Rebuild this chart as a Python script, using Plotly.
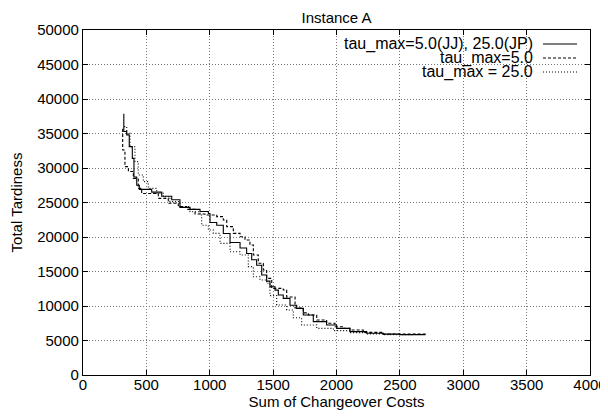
import plotly.graph_objects as go

# ---- data ----
jj_x = [318, 322, 345, 365, 389, 402, 424, 444, 542, 621, 700, 765, 844, 923, 989, 1002,
        1055, 1107, 1160, 1239, 1291, 1331, 1370, 1410, 1449, 1475, 1515, 1541, 1580, 1633,
        1686, 1738, 1817, 1922, 2001, 2106, 2238, 2370, 2500, 2700]
jj_y = [37800, 35300, 34800, 33100, 31400, 28700, 27500, 26900, 26500, 25900, 25400, 24300,
        24000, 23700, 23400, 22100, 21700, 20500, 19200, 18400, 17600, 16700, 15900, 14500,
        13600, 12800, 12300, 11600, 11100, 10100, 9660, 8700, 7730, 7250, 6760, 6280, 6040,
        5920, 5850, 5820]

t5_x = [310, 313, 331, 358, 397, 436, 463, 594, 673, 752, 818, 884, 962, 1055, 1107, 1134,
        1186, 1239, 1278, 1317, 1344, 1383, 1423, 1449, 1489, 1580, 1607, 1673, 1738, 1778,
        1844, 1922, 1988, 2054, 2106, 2211, 2370, 2711]
t5_y = [35600, 32600, 30200, 29500, 28500, 27050, 26300, 25600, 24900, 24400, 24000, 23330,
        23190, 22950, 22460, 21500, 20530, 20040, 19570, 18840, 17400, 16190, 15220, 14000,
        12560, 12320, 11300, 9700, 9000, 8700, 7970, 7490, 7000, 6760, 6520, 6180, 5940, 5800]

t25_x = [325, 345, 371, 410, 436, 476, 515, 581, 634, 686, 765, 844, 923, 936, 989, 1028,
         1081, 1160, 1239, 1304, 1344, 1396, 1449, 1475, 1528, 1607, 1659, 1725, 1844, 1975,
         2106, 2238, 2370, 2600]
t25_y = [36000, 35020, 33090, 30920, 28990, 28020, 27050, 26330, 25840, 25120, 24400, 23670,
         23190, 21700, 21010, 20530, 19080, 17870, 17390, 15700, 14250, 13770, 13290, 11500,
         10140, 9420, 8300, 7250, 6760, 6430, 6140, 5960, 5850, 5820]

series_names = ["tau_max=5.0(JJ), 25.0(JP)", "tau_max=5.0", "tau_max = 25.0"]
series_dash = ["solid", "3px,2px", "1px,2px"]

x_ticks = [0, 500, 1000, 1500, 2000, 2500, 3000, 3500, 4000]
y_ticks = [0, 5000, 10000, 15000, 20000, 25000, 30000, 35000, 40000, 45000, 50000]

FONT = "Liberation Sans, Arial, Helvetica, sans-serif"

fig = go.Figure()
for xs, ys, name, dash in zip([jj_x, t5_x, t25_x], [jj_y, t5_y, t25_y], series_names, series_dash):
    fig.add_trace(go.Scatter(x=xs, y=ys, mode="lines", name=name, line_shape="hv",
                             line=dict(color="black", width=1.1, dash=dash), showlegend=False))

# custom gnuplot-style key: right-aligned text followed by a line sample
row_y = [0.9594, 0.9188, 0.8783]
for name, dash, yy in zip(series_names, series_dash, row_y):
    fig.add_annotation(x=0.8915, y=yy, xref="paper", yref="paper", text=name, showarrow=False,
                       xanchor="right", yanchor="middle", font=dict(family=FONT, size=16, color="black"))
    fig.add_shape(type="line", xref="paper", yref="paper", x0=0.9073, x1=0.9744, y0=yy, y1=yy,
                  line=dict(color="black", width=1.1, dash=dash))

axis_common = dict(showline=True, linecolor="black", linewidth=1.2, mirror="ticks",
                   ticks="inside", ticklen=5, tickcolor="black", automargin=False,
                   showgrid=True, gridcolor="#777777", griddash="1px,2px", gridwidth=1,
                   zeroline=False, tickfont=dict(family=FONT, size=15, color="black"))

fig.update_xaxes(range=[0, 4000], tickvals=x_ticks, ticktext=[str(v) for v in x_ticks],
                 ticklabelstandoff=-4,
                 title=dict(text="Sum of Changeover Costs", font=dict(family=FONT, size=15, color="black"), standoff=0),
                 **axis_common)
fig.update_yaxes(range=[0, 50000], tickvals=y_ticks, ticktext=[str(v) for v in y_ticks],
                 title=dict(text="Total Tardiness", font=dict(family=FONT, size=15, color="black"), standoff=10),
                 **axis_common)

# the page body adds an 8px offset, so the figure is 600x408
fig.update_layout(
    width=600, height=408,
    margin=dict(l=75, r=18, t=22, b=41),
    paper_bgcolor="white", plot_bgcolor="white",
    title=dict(text="Instance A", x=0.5475, xanchor="center", y=0.977, yanchor="middle",
               font=dict(family=FONT, size=15, color="black")),
)

fig.write_html("out.html")
